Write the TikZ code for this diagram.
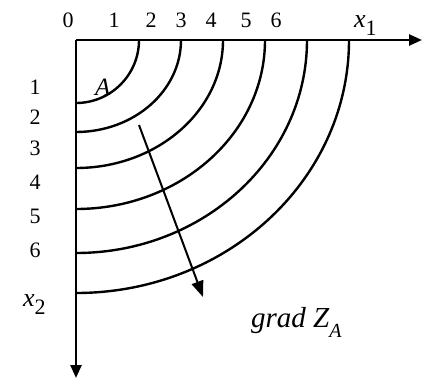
\documentclass[tikz,border=0pt]{standalone}
\usepackage{fontspec}
\setmainfont{Liberation Serif}
\usetikzlibrary{arrows.meta, calc}

\begin{document}
\begin{tikzpicture}[
        x=1pt, y=-1pt,
        lbl/.style={inner sep=0pt, anchor=base, font=\fontsize{22}{26}\selectfont},
        var/.style={inner sep=0pt, anchor=base west, font=\fontsize{26}{30}\selectfont\itshape},
        axis/.style={line width=2.4pt, -{Triangle[length=13pt, width=11pt]}},
        level/.style={line width=2.4pt},
        arrow/.style={line width=2pt, -{Triangle[length=16pt, width=12pt]}}
    ]
        \useasboundingbox (0,0) rectangle (422,378);
        \coordinate (o) at (76,40);
        \coordinate (xend) at (422,40);
        \coordinate (yend) at (76,378);

        % level lines
        \foreach \rx/\ry in {63/63, 105/92, 147/128, 189/169, 231/213, 273/253}
            \draw[level] ($(o)+(\rx,0)$) arc[start angle=0, end angle=90, x radius=\rx, y radius=\ry];

        \draw[axis] (o) -- (xend);
        \draw[axis] (o) -- (yend);

        % ticks
        \node[lbl] (t0) at (68,27) {0};
        \foreach \n/\x in {1/114, 2/151, 3/181, 4/211, 5/246, 6/276}
            \node[lbl] (t\n) at (\x,27) {\n};
        \foreach \n/\y in {1/94, 2/124, 3/155, 4/189, 5/223, 6/257}
            \node[lbl] (s\n) at (35,\y) {\n};
        \node[var] (x1) at (354,27) {x\raisebox{-0.7ex}{\fontsize{22}{26}\selectfont\upshape 1}};
        \node[var] (x2) at (23,306) {x\raisebox{-0.7ex}{\fontsize{22}{26}\selectfont\upshape 2}};
        \node[var, font=\fontsize{25}{29}\selectfont\itshape] (A) at (95,95) {A};
        \node[var, font=\fontsize{29}{34}\selectfont\itshape] (grad) at (251,327) {grad Z\raisebox{-0.8ex}{\fontsize{20}{24}\selectfont A}};

        \coordinate (gstart) at (139,125);
        \coordinate (gend) at (203,297);
        \draw[arrow] (gstart) -- (gend);
    \end{tikzpicture}
\end{document}
